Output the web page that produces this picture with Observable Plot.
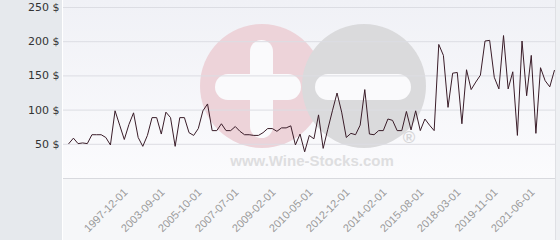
<!DOCTYPE html>
<html><head><meta charset="utf-8">
<script src="https://cdn.jsdelivr.net/npm/d3@7"></script>
<script src="https://cdn.jsdelivr.net/npm/@observablehq/plot@0.6"></script>
<style>
html,body{margin:0;padding:0;background:#f6f7f9;}
#wrap{position:relative;width:560px;height:240px;overflow:hidden;background:#f6f7f9;}
#leftpanel{position:absolute;left:0;top:0;width:62px;height:240px;background:#e6e9ed;}
#gap{position:absolute;left:62px;top:0;width:1px;height:240px;background:#ffffff;}
#plotbg{position:absolute;left:63px;top:0;width:492px;height:178px;background:linear-gradient(#f0f1f6,#fbfbfd);}
#rightedge{position:absolute;left:555px;top:0;width:5px;height:240px;background:#eef0f3;border-left:1px solid #dfe0e4;}
#wm{position:absolute;left:0;top:0;}
#chart{position:absolute;left:0;top:0;}
</style>
</head><body>
<div id="wrap">
  <div id="leftpanel"></div>
  <div id="gap"></div>
  <div id="plotbg"></div>
  <div id="rightedge"></div>
  <svg id="wm" width="560" height="240" viewBox="0 0 560 240">
    <circle cx="262" cy="86" r="62" fill="#edd3d9"/>
    <circle cx="364" cy="86" r="62" fill="#dadadc"/>
    <rect x="215" y="74" width="86" height="26" rx="13" fill="#fafafc"/>
    <rect x="250" y="40" width="23" height="98" rx="11.5" fill="#fafafc"/>
    <rect x="315" y="74" width="96" height="26" rx="13" fill="#fafafc"/>
    <text x="409" y="143" font-family="Liberation Sans" font-size="17" font-weight="bold" fill="#d6d6d8" text-anchor="middle">®</text>
    <text x="312" y="166" font-family="Liberation Sans" font-size="15" font-weight="bold" fill="#dedee0" text-anchor="middle">www.Wine-Stocks.com</text>
  </svg>
  <div id="chart"></div>
</div>
<script>
const values = [51,59,51,52,51,64,64,64,60,49,
  99,78,57,79,96,60,47,63,89,89,
  65,97,89,47,89,89,67,63,73,99,
  109,70,70,80,70,70,76,69,64,64,
  63,63,67,73,73,69,74,74,77,49,
  65,39,63,58,93,44,72,99,125,97,
  60,66,64,78,130,65,64,70,70,87,
  85,70,70,98,71,99,70,87,78,70,
  196,180,104,154,155,80,159,130,141,151,
  201,202,148,131,209,131,156,63,201,121,
  180,66,162,143,134,158];
const tickIndex = [13,21,29,37,45,53,61,69,77,85,93,101];
const tickLabels = ["1997-12-01","2003-09-01","2005-10-01","2007-07-01","2009-02-01","2010-05-01","2012-12-01","2014-02-01","2015-08-01","2018-03-01","2019-11-01","2021-06-01"];
const yTicks = [50,100,150,200,250];

const data = values.map((v, i) => ({i, v}));

const chart = Plot.plot({
  width: 560, height: 240,
  marginLeft: 63, marginRight: 5, marginTop: 7, marginBottom: 62,
  style: {background: "transparent", fontFamily: "DejaVu Sans", fontSize: "11px", overflow: "visible"},
  x: {type: "linear", domain: [0, values.length - 1], insetLeft: 5.3, insetRight: 1.1},
  y: {domain: [0, 250]},
  marks: [
    Plot.ruleY(yTicks, {stroke: "#dcdde3", strokeWidth: 1}),
    Plot.ruleY([0], {stroke: "#d8d9de", strokeWidth: 1}),
    Plot.axisY({ticks: yTicks, tickSize: 0, tickPadding: 4, tickFormat: d => d + " $", fill: "#333333", fontSize: 11, fontFamily: "DejaVu Sans", label: null}),
    Plot.axisX({ticks: tickIndex, tickSize: 0, tickPadding: 12, tickRotate: -45, dx: -3, tickFormat: d => tickLabels[tickIndex.indexOf(d)], fill: "#9a9a9a", fontSize: 11, fontFamily: "Liberation Sans", label: null}),
    Plot.line(data, {x: "i", y: "v", stroke: "#3a1d29", strokeWidth: 1})
  ]
});
document.getElementById("chart").appendChild(chart);
</script>
</body></html>
